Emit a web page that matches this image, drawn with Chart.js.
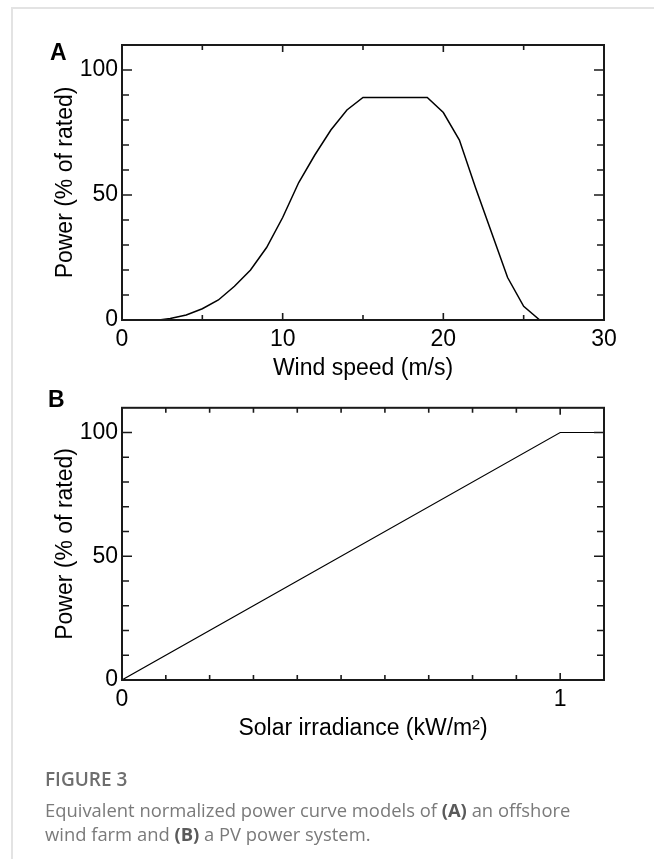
<!DOCTYPE html>
<html>
<head>
<meta charset="utf-8">
<script src="https://cdn.jsdelivr.net/npm/chart.js@4.4.1/dist/chart.umd.min.js"></script>
<style>
  body { margin: 0; background: #fff; width: 654px; height: 859px; overflow: hidden; position: relative; }
  .card { position: absolute; left: 11px; top: 7px; right: 0; bottom: 0; border-top: 2px solid #e3e3e3; border-left: 2px solid #e3e3e3; }
  canvas { position: absolute; left: 0; }
  #chartA { top: 0; }
  #chartB { top: 390px; }
  .caption { position: absolute; left: 45px; top: 767px; width: 545px; font-family: "Open Sans", "Noto Sans", sans-serif; color: #7a7a7a; font-size: 18.4px; line-height: 24px; }
  .caption .fig { font-weight: 600; color: #6e6e6e; font-size: 19px; margin-bottom: 7px; }
  .caption b { color: #5a5a5a; font-weight: 700; }
</style>
</head>
<body>
<div class="card"></div>
<canvas id="chartA" width="654" height="390"></canvas>
<canvas id="chartB" width="654" height="380"></canvas>
<div class="caption">
  <div class="fig">FIGURE 3</div>
  <div>Equivalent normalized power curve models of <b>(A)</b> an offshore wind farm and <b>(B)</b> a PV power system.</div>
</div>
<script>
// (A) offshore wind farm power curve
const windSpeed = [2.3, 3, 4, 5, 6, 7, 8, 9, 10, 11, 12, 13, 14, 15, 19, 20, 21, 22, 23, 24, 25, 26];
const windPower = [0, 0.6, 2, 4.5, 8, 13.5, 20, 29, 41, 55, 66, 76, 84, 89, 89, 83, 72, 53, 35, 17, 5.5, 0];
const windTicks = [0, 5, 10, 15, 20, 25, 30];
const windLabels = [0, 10, 20, 30];

// (B) PV power curve
const irradiance = [0, 1, 1.1];
const pvPower = [0, 100, 100];
const solarTicks = [0, 0.1, 0.2, 0.3, 0.4, 0.5, 0.6, 0.7, 0.8, 0.9, 1];
const solarLabels = [0, 1];

const powerTicks = [0, 10, 20, 30, 40, 50, 60, 70, 80, 90, 100];
const powerLabels = [0, 50, 100];

const FONT = 'Liberation Sans, Arial, sans-serif';

// frame round the plot area, inward ticks on all four sides, panel letter
const frameTicks = {
  id: 'frameTicks',
  afterDraw(chart, args, opts) {
    const { ctx, chartArea: a, scales: { x, y } } = chart;
    ctx.save();
    ctx.strokeStyle = '#1a1a1a';
    ctx.lineWidth = 1.6;
    ctx.beginPath();
    x.ticks.forEach(t => {
      const px = x.getPixelForValue(t.value);
      const len = opts.xMajor.includes(t.value) ? 7 : 5;
      ctx.moveTo(px, a.bottom); ctx.lineTo(px, a.bottom - len);
      ctx.moveTo(px, a.top); ctx.lineTo(px, a.top + len);
    });
    y.ticks.forEach(t => {
      const py = y.getPixelForValue(t.value);
      const len = powerLabels.includes(t.value) ? 10 : 7;
      ctx.moveTo(a.left, py); ctx.lineTo(a.left + len, py);
      ctx.moveTo(a.right, py); ctx.lineTo(a.right - len, py);
    });
    ctx.stroke();
    ctx.lineWidth = 2;
    ctx.strokeRect(a.left, a.top, a.right - a.left, a.bottom - a.top);
    ctx.fillStyle = '#000';
    ctx.font = 'bold 23px ' + FONT;
    ctx.textBaseline = 'alphabetic';
    ctx.fillText(opts.letter, opts.lx, opts.ly);
    ctx.restore();
  }
};

function makeChart(id, xs, ys, cfg) {
  return new Chart(document.getElementById(id), {
    type: 'scatter',
    data: {
      datasets: [{
        data: xs.map((v, i) => ({ x: v, y: ys[i] })),
        showLine: true,
        borderColor: '#000',
        borderWidth: cfg.lineWidth,
        pointRadius: 0,
        tension: 0
      }]
    },
    options: {
      responsive: false,
      devicePixelRatio: 1,
      animation: false,
      layout: { padding: { top: cfg.top, right: 50, left: 0, bottom: 0 } },
      plugins: {
        legend: { display: false },
        tooltip: { enabled: false },
        frameTicks: cfg.frame
      },
      scales: {
        x: {
          type: 'linear',
          min: 0,
          max: cfg.xMax,
          grid: { display: false, drawTicks: false },
          border: { display: false },
          afterBuildTicks: s => { s.ticks = cfg.xTicks.map(v => ({ value: v })); },
          afterFit: s => { s.height = cfg.xHeight; },
          ticks: {
            color: '#000',
            padding: 6,
            maxRotation: 0,
            autoSkip: false,
            font: { family: FONT, size: 23 },
            callback: v => cfg.xLabels.includes(v) ? String(v) : ''
          },
          title: {
            display: true,
            text: cfg.xTitle,
            color: '#000',
            font: { family: FONT, size: 23 },
            padding: { top: 0, bottom: cfg.titlePad }
          }
        },
        y: {
          min: 0,
          max: 110,
          grid: { display: false, drawTicks: false },
          border: { display: false },
          afterBuildTicks: s => { s.ticks = powerTicks.map(v => ({ value: v })); },
          afterFit: s => { s.width = 122; },
          ticks: {
            color: '#000',
            padding: 4,
            autoSkip: false,
            font: { family: FONT, size: 23 },
            callback: v => powerLabels.includes(v) ? String(v) : ''
          },
          title: {
            display: true,
            text: 'Power (% of rated)',
            color: '#000',
            font: { family: FONT, size: 23 },
            padding: { top: 52, bottom: 0 }
          }
        }
      }
    },
    plugins: [frameTicks]
  });
}

makeChart('chartA', windSpeed, windPower, {
  top: 45, xMax: 30, xTicks: windTicks, xLabels: windLabels,
  xHeight: 70, titlePad: 8, lineWidth: 1.5,
  xTitle: 'Wind speed (m/s)',
  frame: { letter: 'A', lx: 50, ly: 60, xMajor: windLabels }
});

makeChart('chartB', irradiance, pvPower, {
  top: 15, xMax: 1.1, xTicks: solarTicks, xLabels: solarLabels,
  xHeight: 90, titlePad: 28, lineWidth: 1.1,
  xTitle: 'Solar irradiance (kW/m²)',
  frame: { letter: 'B', lx: 48, ly: 17, xMajor: solarLabels }
});
</script>
</body>
</html>
